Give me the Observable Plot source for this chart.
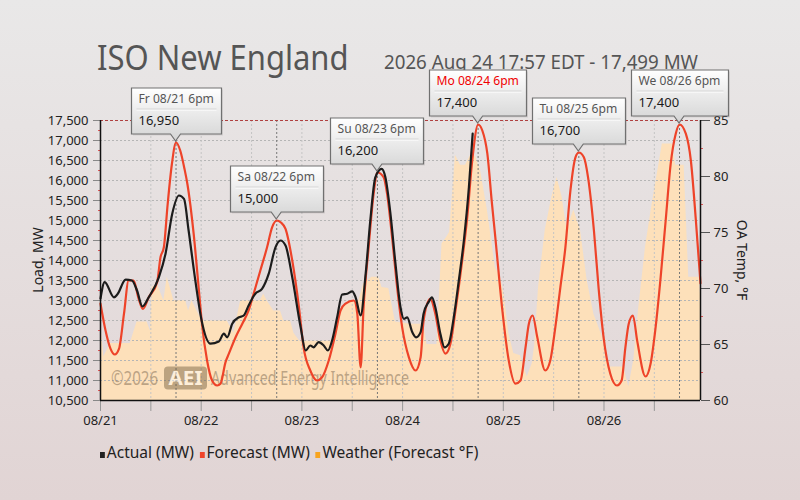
<!DOCTYPE html>
<html><head><meta charset="utf-8">
<script src="https://cdn.jsdelivr.net/npm/d3@7"></script>
<script src="https://cdn.jsdelivr.net/npm/@observablehq/plot@0.6"></script>
<style>
body{margin:0;}
#wrap{position:relative;width:800px;height:500px;background:linear-gradient(#e9e8e8,#e1d4d4);font-family:"Noto Sans",sans-serif;overflow:hidden;}
#title{position:absolute;left:97px;top:39px;font-size:35px;line-height:35px;color:#555;white-space:nowrap;transform:scaleX(0.885);transform-origin:0 0;}
#subtitle{position:absolute;left:384px;top:53px;font-size:19px;line-height:19px;color:#555;white-space:nowrap;transform:scaleX(0.985);transform-origin:0 0;}
#legend{position:absolute;left:100px;top:442px;font-size:16px;line-height:20px;color:#222;white-space:nowrap;transform:scaleX(0.97);transform-origin:0 0;}
#legend .sw{display:inline-block;width:5px;height:6px;margin-right:2px;vertical-align:baseline;}
#legend .it{margin-right:6px;}
#chart{position:absolute;left:0;top:0;z-index:2;}
</style></head>
<body>
<div id="wrap">
  <div id="title">ISO New England</div>
  <div id="subtitle">2026 Aug 24 17:57 EDT - 17,499 MW</div>
  <div id="chart"></div>
  <div id="legend"></div>
</div>
<script>
// ---- data (hours from 08/21 00:00) ----
const forecastHours = [0,1.2,2.4,3.4,4.4,5.6,6.7,7.9,9,10.1,11.5,13.5,14.3,15.1,16,17,18,19,20,20.7,22.2,23.5,24.2,25.4,26.6,27.8,28.6,29.8,30.6,32.2,33.8,35.3,36.5,38.1,39.7,40.9,42,43,44.1,45.7,47.3,48.4,50,51.6,52.8,54.4,56,57.2,58.4,60.4,61.2,62,62.7,63.9,65.1,66,67.5,68.3,69.5,70.7,71.9,73.5,75.1,76.3,77,78.6,79.8,81,82.2,83.4,84.6,86.2,87.4,88.6,90,91,92.2,93.3,94.1,95.7,97.3,98.9,100.1,101.3,102.1,103,104.1,106,107.2,108.4,109.6,110.8,112,113.2,114,115.2,116.2,117.6,118.7,119.9,121.5,123.1,124.2,125.1,125.9,126.9,127.9,129.9,131.1,132.3,133.5,134.7,135.9,137.1,138,139.5,140.7,141.9,143];
const forecastMW = [12920,12250,11790,11650,11790,12670,13500,13500,13080,12790,13080,13460,14080,14330,15400,16400,16950,16750,16300,15920,14670,13200,12400,11500,11000,10875,10920,11460,11670,12080,12420,12750,13170,13750,14330,14830,15000,14950,14790,14000,12830,11830,11250,11000,11080,11500,12170,12750,12920,13000,12670,11330,12830,14330,15670,16200,16080,15670,14580,13330,12330,11580,11250,11580,12500,13040,12670,12000,11670,11920,12750,14000,15080,16500,17400,17250,16670,15420,14580,12830,11500,10920,11000,11830,12420,12625,12080,11250,11500,12330,13330,14330,15750,16580,16700,16580,16080,14750,13330,12080,11170,10875,11000,11830,12420,12625,12000,11100,11420,12330,13580,15000,16420,17170,17400,17170,16500,15000,13430];

const actualHours = [0,1,3.2,4,6,7.5,8.7,10,11.5,13.9,15.5,17.1,18.7,19.9,21,22.6,24.1,26.2,28.2,29.4,30.2,31.4,33,34.1,35.3,36.9,38.5,40.1,41.7,42.9,44.1,45.7,47.7,48.9,50,50.8,52,53.2,54.2,55.2,56.4,57.6,58.8,60,60.8,62,63.2,64.3,65.5,67,67.9,69.1,70.3,71.5,72.3,73.1,74.3,75.2,76.3,77,78.2,79,79.8,81,82,83,84.2,85.4,86.6,87.8,88.7];
const actualMW = [13050,13460,13080,13150,13520,13500,13250,12850,13080,13580,14170,15170,15625,15540,14750,13500,12500,11920,11975,12170,12080,12420,12580,12620,12875,13170,13290,13670,14330,14500,14375,13580,12330,11750,11875,11830,11960,11875,11750,12000,12580,13150,13170,13230,13080,12625,13670,15000,16080,16290,16080,15170,13920,12830,12540,12580,12210,12080,12210,12670,12960,13080,12830,12170,11830,11920,12580,13500,14500,15830,17170];

const weatherHours = [0,0.8,2.4,7.1,8.7,11.1,11.9,12.3,13.5,15.1,15.9,17.5,20.3,21,21.8,23,24.2,30.2,31.8,33.4,38.1,38.9,39.7,41.3,42.9,43.7,45.3,46.1,47.5,55,56,57.6,59.2,61.6,62.7,64.7,66.3,67.1,68.7,70.3,73.9,77,77.8,80.2,81.4,82.4,83.2,84.6,85.8,87,88.2,89.4,90.6,92.2,94.1,95.3,96.2,97.3,98.5,100.1,101.7,102.9,103.5,104.4,106,107.6,108.8,110,111.2,112.8,114.4,116,117.6,119.6,121.2,124.7,125.9,127.1,128.3,129.9,131.5,133.1,133.9,136.3,137.1,139.1,140.2,142.7,143];
const weatherF = [67.1,63.9,65.1,65.1,67,67,66.2,70.1,70.4,68.9,71,68.9,68.9,68,68.9,68,67.1,67.1,66,68.9,68.9,69.5,68.9,68,68,67.1,67.1,66,65.3,65.3,66.5,68.3,68.9,68.9,70.4,71,71,70.1,70,67,66.8,66.8,65,65,74,74.5,75,81.9,81,81,81.9,81.8,80.5,77,71.9,71,69.5,66,64.2,64,62.1,63.3,65,70.1,75.2,78.2,79.9,78.2,75.2,77,75.2,70.7,67.7,65.7,63,63,61.2,63.6,68.3,73.7,77.6,81.1,82.9,82.9,81,81,71,71,69.5];

const loadTicks = [10500,11000,11500,12000,12500,13000,13500,14000,14500,15000,15500,16000,16500,17000,17500];
const tempTicks = [60,65,70,75,80,85];
const dayLabelHours = [0,12,24,36,48,60,72,84,96,108,120,132];

const calloutHours = [18,42,66,90,114,138];
const calloutLabels = ["Fr 08/21 6pm","Sa 08/22 6pm","Su 08/23 6pm","Mo 08/24 6pm","Tu 08/25 6pm","We 08/26 6pm"];
const calloutMW = [16950,15000,16200,17400,16700,17400];
const calloutToday = [false,false,false,true,false,false];

// ---- helpers ----
const T0 = Date.UTC(2026,7,21);
const t = h => new Date(T0 + h*3600e3);
const MWmin = 10500, MWmax = 17500, Fmin = 60, Fmax = 85;
const toMW = f => MWmin + (f - Fmin) * (MWmax - MWmin) / (Fmax - Fmin);
const fromMW = m => Fmin + (m - MWmin) * (Fmax - Fmin) / (MWmax - MWmin);

const forecast = forecastHours.map((h,i) => ({date: t(h), mw: forecastMW[i]}));
const actual = actualHours.map((h,i) => ({date: t(h), mw: actualMW[i]}));
const weather = weatherHours.map((h,i) => ({date: t(h), f: weatherF[i]}));
const xTicks = dayLabelHours.map(t);
const fmtDay = d3.utcFormat("%m/%d");
const midLoad = loadTicks.slice(1).map((v,i) => (v + loadTicks[i]) / 2);
const midTemp = tempTicks.slice(1).map((v,i) => toMW((v + tempTicks[i]) / 2));

const FONT = "'Noto Sans', sans-serif";
const ctx = document.createElement("canvas").getContext("2d");

function watermark(index, scales, values, dims) {
  const g = d3.create("svg:g").attr("font-family", FONT).attr("opacity", 0.45).attr("text-anchor", "start");
  const x0 = dims.marginLeft + 11, y0 = dims.height - dims.marginBottom - 22;
  g.append("text").attr("x", x0).attr("y", y0).attr("dy", "0.35em")
    .attr("font-size", 19).attr("fill", "#6e5a44").attr("textLength", 47).attr("lengthAdjust", "spacingAndGlyphs").text("©2026");
  g.append("rect").attr("x", x0 + 53).attr("y", y0 - 11.5).attr("width", 43).attr("height", 23).attr("rx", 4)
    .attr("fill", "#6e5a3c");
  g.append("text").attr("x", x0 + 74.5).attr("y", y0).attr("dy", "0.36em").attr("text-anchor", "middle")
    .attr("font-size", 20).attr("fill", "#fff").attr("font-weight", "bold").attr("textLength", 34).attr("lengthAdjust", "spacingAndGlyphs").text("AEI");
  g.append("text").attr("x", x0 + 100).attr("y", y0).attr("dy", "0.35em")
    .attr("font-size", 19).attr("fill", "#6e5a44").attr("textLength", 198).attr("lengthAdjust", "spacingAndGlyphs").text("Advanced Energy Intelligence");
  return g.node();
}

function axisTitles(index, scales, values, dims) {
  const g = d3.create("svg:g").attr("font-family", FONT).attr("font-size", 14).attr("fill", "#222").attr("text-anchor", "middle");
  const cy = (dims.marginTop + dims.height - dims.marginBottom) / 2;
  g.append("text").attr("transform", `translate(${dims.marginLeft - 62},${cy}) rotate(-90)`)
    .attr("dy", "0.35em").text("Load, MW");
  g.append("text").attr("transform", `translate(${dims.width - dims.marginRight + 42},${cy}) rotate(90)`)
    .attr("dy", "0.35em").text("OA Temp, °F");
  return g.node();
}

function callouts(index, scales, values, dims) {
  const g = d3.create("svg:g").attr("font-family", FONT).attr("text-anchor", "start");
  const grad = g.append("defs").append("linearGradient").attr("id", "calloutGrad")
    .attr("x1", 0).attr("y1", 0).attr("x2", 0).attr("y2", 1);
  grad.append("stop").attr("offset", "0%").attr("stop-color", "#ffffff");
  grad.append("stop").attr("offset", "100%").attr("stop-color", "#d4d4d4");
  ctx.font = "13px " + FONT;
  calloutHours.forEach((h, i) => {
    const cx = scales.x(t(h)), ty = scales.y(calloutMW[i]);
    const labW = ctx.measureText(calloutLabels[i]).width * 0.93;
    const valW = ctx.measureText(calloutMW[i].toLocaleString("en-US")).width;
    const tw = Math.max(labW, valW);
    const w = Math.round(tw + 15), hgt = 46;
    const b = ty - 8, top = b - hgt, l = Math.round(cx - w / 2) + 0.5, r = l + w;
    const gi = g.append("g");
    gi.append("path")
      .attr("d", `M${l + 1.5},${top + 1.5}H${r + 1.5}V${b + 1.5}H${l + 1.5}Z`)
      .attr("fill", "#000").attr("fill-opacity", 0.08);
    gi.append("path")
      .attr("d", `M${l},${top}H${r}V${b}H${cx + 5}L${cx},${ty - 1}L${cx - 5},${b}H${l}Z`)
      .attr("fill", "url(#calloutGrad)").attr("stroke", "#707070").attr("stroke-width", 1.2);
    gi.append("line").attr("x1", l + 5).attr("x2", r - 5).attr("y1", top + 22).attr("y2", top + 22)
      .attr("stroke", "#fafafa").attr("stroke-width", 1.5);
    gi.append("line").attr("x1", l + 5).attr("x2", r - 5).attr("y1", top + 21).attr("y2", top + 21)
      .attr("stroke", "#cfcfcf").attr("stroke-width", 0.8);
    gi.append("text").attr("x", l + 7).attr("y", top + 15).attr("font-size", 13)
      .attr("textLength", labW).attr("lengthAdjust", "spacingAndGlyphs")
      .attr("fill", calloutToday[i] ? "#f00000" : "#555").text(calloutLabels[i]);
    gi.append("text").attr("x", l + 7).attr("y", top + 37).attr("font-size", 13)
      .attr("fill", "#1a1a1a").text(calloutMW[i].toLocaleString("en-US"));
  });
  return g.node();
}

const chart = Plot.plot({
  width: 800, height: 430,
  marginTop: 120, marginBottom: 30, marginLeft: 100, marginRight: 100,
  style: {background: "transparent", fontFamily: FONT, fontSize: "13px", overflow: "visible"},
  x: {type: "utc", domain: [t(0), t(143)]},
  y: {domain: [MWmin, MWmax]},
  marks: [
    Plot.areaY(weather, {x: "date", y1: MWmin, y2: d => toMW(d.f), fill: "#fde0ba", fillOpacity: 1}),
    Plot.gridY(loadTicks.slice(1, -1), {stroke: "#b5b5b5", strokeOpacity: 1, strokeDasharray: "2,2"}),
    Plot.gridX(xTicks.slice(1), {stroke: "#c4c4c4", strokeOpacity: 1, strokeDasharray: "2,2"}),
    Plot.ruleX(calloutHours.map(t), {stroke: "#777", strokeDasharray: "2,2"}),
    watermark,
    Plot.line(forecast, {x: "date", y: "mw", stroke: "#ee4329", strokeWidth: 2.2, curve: "monotone-x"}),
    Plot.line(actual, {x: "date", y: "mw", stroke: "#1c1c1c", strokeWidth: 2.2, curve: "monotone-x"}),
    Plot.axisX(xTicks, {tickSize: 11, tickPadding: 4, color: "#222", stroke: "#999", fontSize: 13, label: null,
      tickFormat: d => d.getUTCHours() === 0 ? fmtDay(d) : ""}),
    Plot.axisY(loadTicks, {anchor: "left", tickSize: 7, tickPadding: 5, color: "#222", stroke: "#888", fontSize: 13, label: null}),
    Plot.axisY(midLoad, {anchor: "left", tickSize: 2, tickFormat: () => "", stroke: "#e05555", label: null}),
    Plot.axisY(tempTicks.map(toMW), {anchor: "right", tickSize: 9, tickPadding: 4, color: "#222", stroke: "#555", fontSize: 13, label: null,
      tickFormat: d => String(Math.round(fromMW(d)))}),
    Plot.axisY(midTemp, {anchor: "right", tickSize: 2, tickFormat: () => "", stroke: "#e05555", label: null}),
    Plot.ruleY([MWmax], {stroke: "#b04040", strokeDasharray: "3,2"}),
    Plot.ruleX([t(0)], {stroke: "#111", strokeWidth: 1.5}),
    Plot.ruleX([t(143)], {stroke: "#111", strokeWidth: 1.5}),
    Plot.ruleY([MWmin], {stroke: "#111", strokeWidth: 1.5}),
    axisTitles,
    callouts
  ]
});
document.getElementById("chart").appendChild(chart);

// legend
const legendItems = [["Actual (MW)", "#222"], ["Forecast (MW)", "#f0452a"], ["Weather (Forecast °F)", "#f8a41e"]];
const leg = d3.select("#legend");
legendItems.forEach(([label, color]) => {
  const s = leg.append("span").attr("class", "it");
  s.append("span").attr("class", "sw").style("background", color);
  s.append("span").text(label);
});
</script>
</body></html>
